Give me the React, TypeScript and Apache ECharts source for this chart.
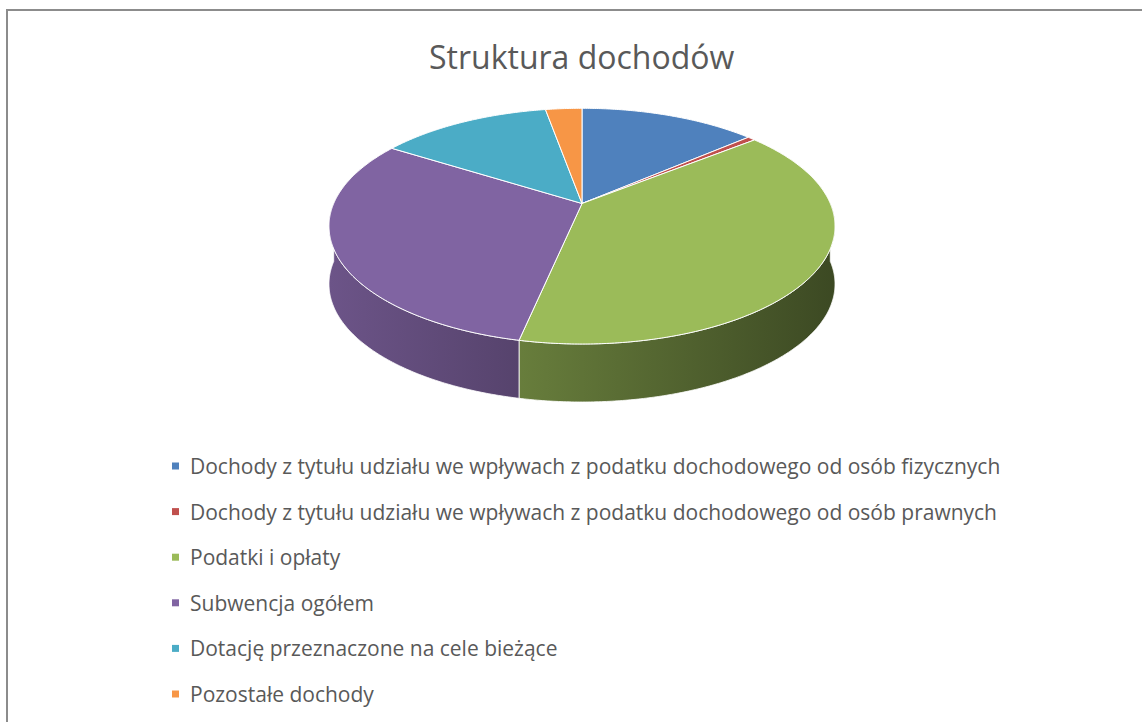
import React, { useEffect, useRef } from "react";
import * as echarts from "echarts";

const titleText = "Struktura dochodów";
const categories = [
  "Dochody z tytułu udziału we wpływach z podatku dochodowego od osób fizycznych",
  "Dochody z tytułu udziału we wpływach z podatku dochodowego od osób prawnych",
  "Podatki i opłaty",
  "Subwencja ogółem",
  "Dotację przeznaczone na cele bieżące",
  "Pozostałe dochody",
];
const values = [13.6, 0.6, 39.1, 30.7, 13.2, 2.8];
const colors = ["#4F81BD", "#C0504D", "#9BBB59", "#8064A2", "#4BACC6", "#F79646"];

// layout of the 3D pie (perspective projection of a disc)
const CX = 582;
const CY = 203.5;
const RA = 248.3;
const RB = 113.5;
const PK = -0.1922;
const DEPTH = 58;
const LEFT_X = 329;
const RIGHT_X = 835;

function shade(hex: string, f: number): string {
  const n = parseInt(hex.slice(1), 16);
  const r = Math.round(((n >> 16) & 255) * f);
  const g = Math.round(((n >> 8) & 255) * f);
  const b = Math.round((n & 255) * f);
  return `rgb(${r},${g},${b})`;
}

function proj(deg: number): [number, number] {
  const t = (deg * Math.PI) / 180;
  const sx = Math.sin(t);
  const sy = -Math.cos(t);
  const s = 1 / (1 + PK * sy);
  return [CX + RA * sx * s, CY + RB * sy * s];
}

function arc(a0: number, a1: number): [number, number][] {
  const pts: [number, number][] = [];
  const n = Math.max(2, Math.ceil((a1 - a0) / 0.5));
  for (let j = 0; j <= n; j++) pts.push(proj(a0 + ((a1 - a0) * j) / n));
  return pts;
}

export default function App() {
  const ref = useRef<HTMLDivElement>(null);
  useEffect(() => {
    if (!ref.current) return;
    const chart = echarts.init(ref.current, undefined, { renderer: "svg" });
    const total = values.reduce((s, v) => s + v, 0);

    const renderItem = (params: any, api: any) => {
      const i = params.seriesIndex;
      let before = 0;
      for (let j = 0; j < i; j++) before += values[j];
      const start = (before / total) * 360;
      const end = start + (api.value(0) / total) * 360;
      const base = colors[i];
      const children: any[] = [];
      const lo = Math.max(start, 90);
      const hi = Math.min(end, 270);
      if (lo < hi) {
        const topArc = arc(lo, hi);
        const bottomArc = topArc
          .map((p) => [p[0], p[1] + DEPTH] as [number, number])
          .reverse();
        children.push({
          type: "polygon",
          z2: 1,
          shape: { points: topArc.concat(bottomArc) },
          style: {
            fill: new echarts.graphic.LinearGradient(
              LEFT_X,
              0,
              RIGHT_X,
              0,
              [
                { offset: 0, color: shade(base, 0.84) },
                { offset: 1, color: shade(base, 0.39) },
              ],
              true
            ),
            stroke: "#ffffff",
            lineWidth: 0.8,
          },
        });
      }
      const topPts = [[CX, CY] as [number, number]].concat(arc(start, end));
      children.push({
        type: "polygon",
        z2: 10,
        shape: { points: topPts },
        style: { fill: base, stroke: "#ffffff", lineWidth: 1, lineJoin: "round" },
      });
      return { type: "group", children };
    };

    chart.setOption({
      animation: false,
      backgroundColor: "#ffffff",
      title: {
        text: titleText,
        left: 429,
        top: 39,
        padding: 0,
        textStyle: {
          fontFamily: "Open Sans",
          fontSize: 32,
          lineHeight: 34,
          fontWeight: "normal",
          color: "#595959",
        },
      },
      legend: {
        orient: "vertical",
        left: 172,
        top: 454,
        padding: 0,
        itemWidth: 7,
        itemHeight: 7,
        itemGap: 21.6,
        icon: "rect",
        data: categories,
        textStyle: {
          fontFamily: "Open Sans",
          fontSize: 21,
          lineHeight: 24,
          color: "#595959",
          padding: [0, 0, 0, 6],
        },
      },
      graphic: [
        {
          type: "rect",
          silent: true,
          shape: { x: 7, y: 10, width: 1300, height: 900 },
          style: { fill: "none", stroke: "#8c8c8c", lineWidth: 2 },
        },
      ],
      series: categories.map((name, i) => ({
        type: "custom",
        name,
        coordinateSystem: "none",
        itemStyle: { color: colors[i] },
        renderItem,
        data: [[values[i]]],
      })),
    });
    return () => chart.dispose();
  }, []);
  return (
    <div
      ref={ref}
      style={{ position: "fixed", left: 0, top: 0, width: 1142, height: 722, background: "#fff" }}
    />
  );
}
